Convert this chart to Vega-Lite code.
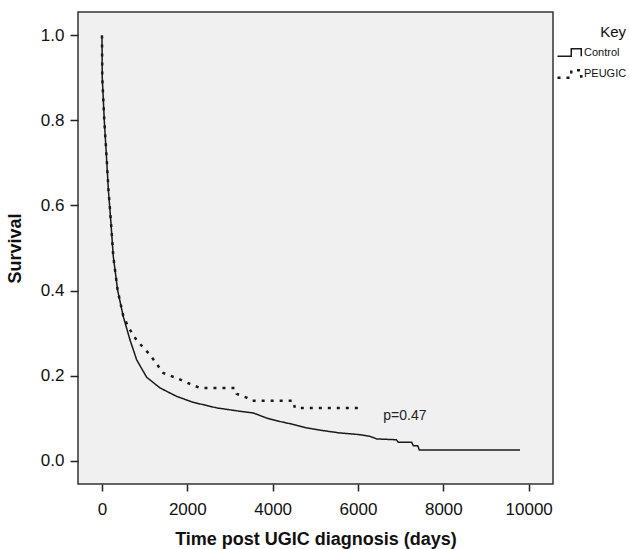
{
  "$schema": "https://vega.github.io/schema/vega-lite/v6.json",
  "autosize": {"type": "none"},
  "padding": {"left": 78, "top": 12, "right": 77, "bottom": 65},
  "width": 475,
  "height": 472,
  "background": "#ffffff",
  "config": {
    "font": "Liberation Sans",
    "view": {"fill": "#f0f0f0", "stroke": "#333333", "strokeWidth": 1.5},
    "axis": {"grid": false, "domain": false, "tickColor": "#222222", "tickWidth": 1.5, "labelColor": "#111111", "titleColor": "#111111", "labelFont": "Liberation Sans", "titleFont": "Liberation Sans"}
  },
  "layer": [
    {
      "data": {
        "values": [
          {"group": "Control", "days": 0, "survival": 1.0},
          {"group": "Control", "days": 7, "survival": 0.90},
          {"group": "Control", "days": 54, "survival": 0.80},
          {"group": "Control", "days": 110, "survival": 0.707},
          {"group": "Control", "days": 150, "survival": 0.636},
          {"group": "Control", "days": 211, "survival": 0.558},
          {"group": "Control", "days": 265, "survival": 0.48},
          {"group": "Control", "days": 368, "survival": 0.40},
          {"group": "Control", "days": 499, "survival": 0.339},
          {"group": "Control", "days": 656, "survival": 0.284},
          {"group": "Control", "days": 813, "survival": 0.237},
          {"group": "Control", "days": 1047, "survival": 0.196},
          {"group": "Control", "days": 1359, "survival": 0.171},
          {"group": "Control", "days": 1750, "survival": 0.151},
          {"group": "Control", "days": 2140, "survival": 0.137},
          {"group": "Control", "days": 2688, "survival": 0.124},
          {"group": "Control", "days": 3234, "survival": 0.116},
          {"group": "Control", "days": 3547, "survival": 0.112},
          {"group": "Control", "days": 3860, "survival": 0.100},
          {"group": "Control", "days": 4172, "survival": 0.092},
          {"group": "Control", "days": 4484, "survival": 0.085},
          {"group": "Control", "days": 4797, "survival": 0.077},
          {"group": "Control", "days": 5149, "survival": 0.071},
          {"group": "Control", "days": 5578, "survival": 0.065},
          {"group": "Control", "days": 6047, "survival": 0.061},
          {"group": "Control", "days": 6281, "survival": 0.057},
          {"group": "Control", "days": 6438, "survival": 0.051},
          {"group": "Control", "days": 6900, "survival": 0.049},
          {"group": "Control", "days": 6945, "survival": 0.043},
          {"group": "Control", "days": 7258, "survival": 0.043},
          {"group": "Control", "days": 7297, "survival": 0.035},
          {"group": "Control", "days": 7400, "survival": 0.035},
          {"group": "Control", "days": 7437, "survival": 0.025},
          {"group": "Control", "days": 9797, "survival": 0.025},
          {"group": "PEUGIC", "days": 0, "survival": 1.0},
          {"group": "PEUGIC", "days": 7, "survival": 0.90},
          {"group": "PEUGIC", "days": 54, "survival": 0.80},
          {"group": "PEUGIC", "days": 110, "survival": 0.71},
          {"group": "PEUGIC", "days": 150, "survival": 0.64},
          {"group": "PEUGIC", "days": 211, "survival": 0.56},
          {"group": "PEUGIC", "days": 265, "survival": 0.48},
          {"group": "PEUGIC", "days": 368, "survival": 0.40},
          {"group": "PEUGIC", "days": 499, "survival": 0.34},
          {"group": "PEUGIC", "days": 617, "survival": 0.314},
          {"group": "PEUGIC", "days": 812, "survival": 0.283},
          {"group": "PEUGIC", "days": 1125, "survival": 0.249},
          {"group": "PEUGIC", "days": 1437, "survival": 0.206},
          {"group": "PEUGIC", "days": 1750, "survival": 0.194},
          {"group": "PEUGIC", "days": 2140, "survival": 0.177},
          {"group": "PEUGIC", "days": 2297, "survival": 0.171},
          {"group": "PEUGIC", "days": 3110, "survival": 0.171},
          {"group": "PEUGIC", "days": 3157, "survival": 0.157},
          {"group": "PEUGIC", "days": 3391, "survival": 0.148},
          {"group": "PEUGIC", "days": 3508, "survival": 0.141},
          {"group": "PEUGIC", "days": 4484, "survival": 0.141},
          {"group": "PEUGIC", "days": 4520, "survival": 0.124},
          {"group": "PEUGIC", "days": 6008, "survival": 0.124}
        ]
      },
      "mark": {"type": "line", "color": "#1a1a1a", "interpolate": "linear"},
      "encoding": {
        "x": {
          "field": "days", "type": "quantitative",
          "scale": {"domain": [-562, 10570], "nice": false, "zero": false},
          "axis": {"values": [0, 2000, 4000, 6000, 8000, 10000], "format": "d", "title": "Time post UGIC diagnosis (days)", "tickSize": 7, "labelPadding": 10, "labelFontSize": 17, "titleFontSize": 18, "titleFontWeight": "bold", "titlePadding": 13, "labelFlush": false}
        },
        "y": {
          "field": "survival", "type": "quantitative",
          "scale": {"domain": [-0.055, 1.055], "nice": false, "zero": false},
          "axis": {"values": [0, 0.2, 0.4, 0.6, 0.8, 1.0], "format": ".1f", "title": "Survival", "tickSize": 8, "labelPadding": 6, "labelFontSize": 17, "titleFontSize": 18, "titleFontWeight": "bold", "titlePadding": 16, "labelFlush": false}
        },
        "strokeDash": {
          "field": "group", "type": "nominal",
          "scale": {"domain": ["Control", "PEUGIC"], "range": [[1, 0], [3, 6]]},
          "legend": {
            "title": "Key", "orient": "none", "legendX": 478, "legendY": 13,
            "titleFontSize": 15, "titleFontWeight": "normal", "titleAnchor": "end", "titlePadding": -1, "titleColor": "#111111",
            "labelFontSize": 11, "labelColor": "#111111", "labelOffset": 0,
            "symbolType": "M-1,0.3H0.1V-0.3H0.9V0.3", "symbolSize": 625, "symbolStrokeWidth": 1.5, "symbolStrokeColor": "#1a1a1a", "symbolFillColor": "transparent", "rowPadding": -12
          }
        },
        "strokeWidth": {
          "field": "group", "type": "nominal",
          "scale": {"domain": ["Control", "PEUGIC"], "range": [1.5, 2.5]},
          "legend": null
        }
      }
    },
    {
      "data": {"values": [{"days": 7100, "survival": 0.104, "label": "p=0.47"}]},
      "mark": {"type": "text", "fontSize": 14, "color": "#222222", "align": "center", "baseline": "middle"},
      "encoding": {
        "x": {"field": "days", "type": "quantitative"},
        "y": {"field": "survival", "type": "quantitative"},
        "text": {"field": "label"}
      }
    }
  ]
}
